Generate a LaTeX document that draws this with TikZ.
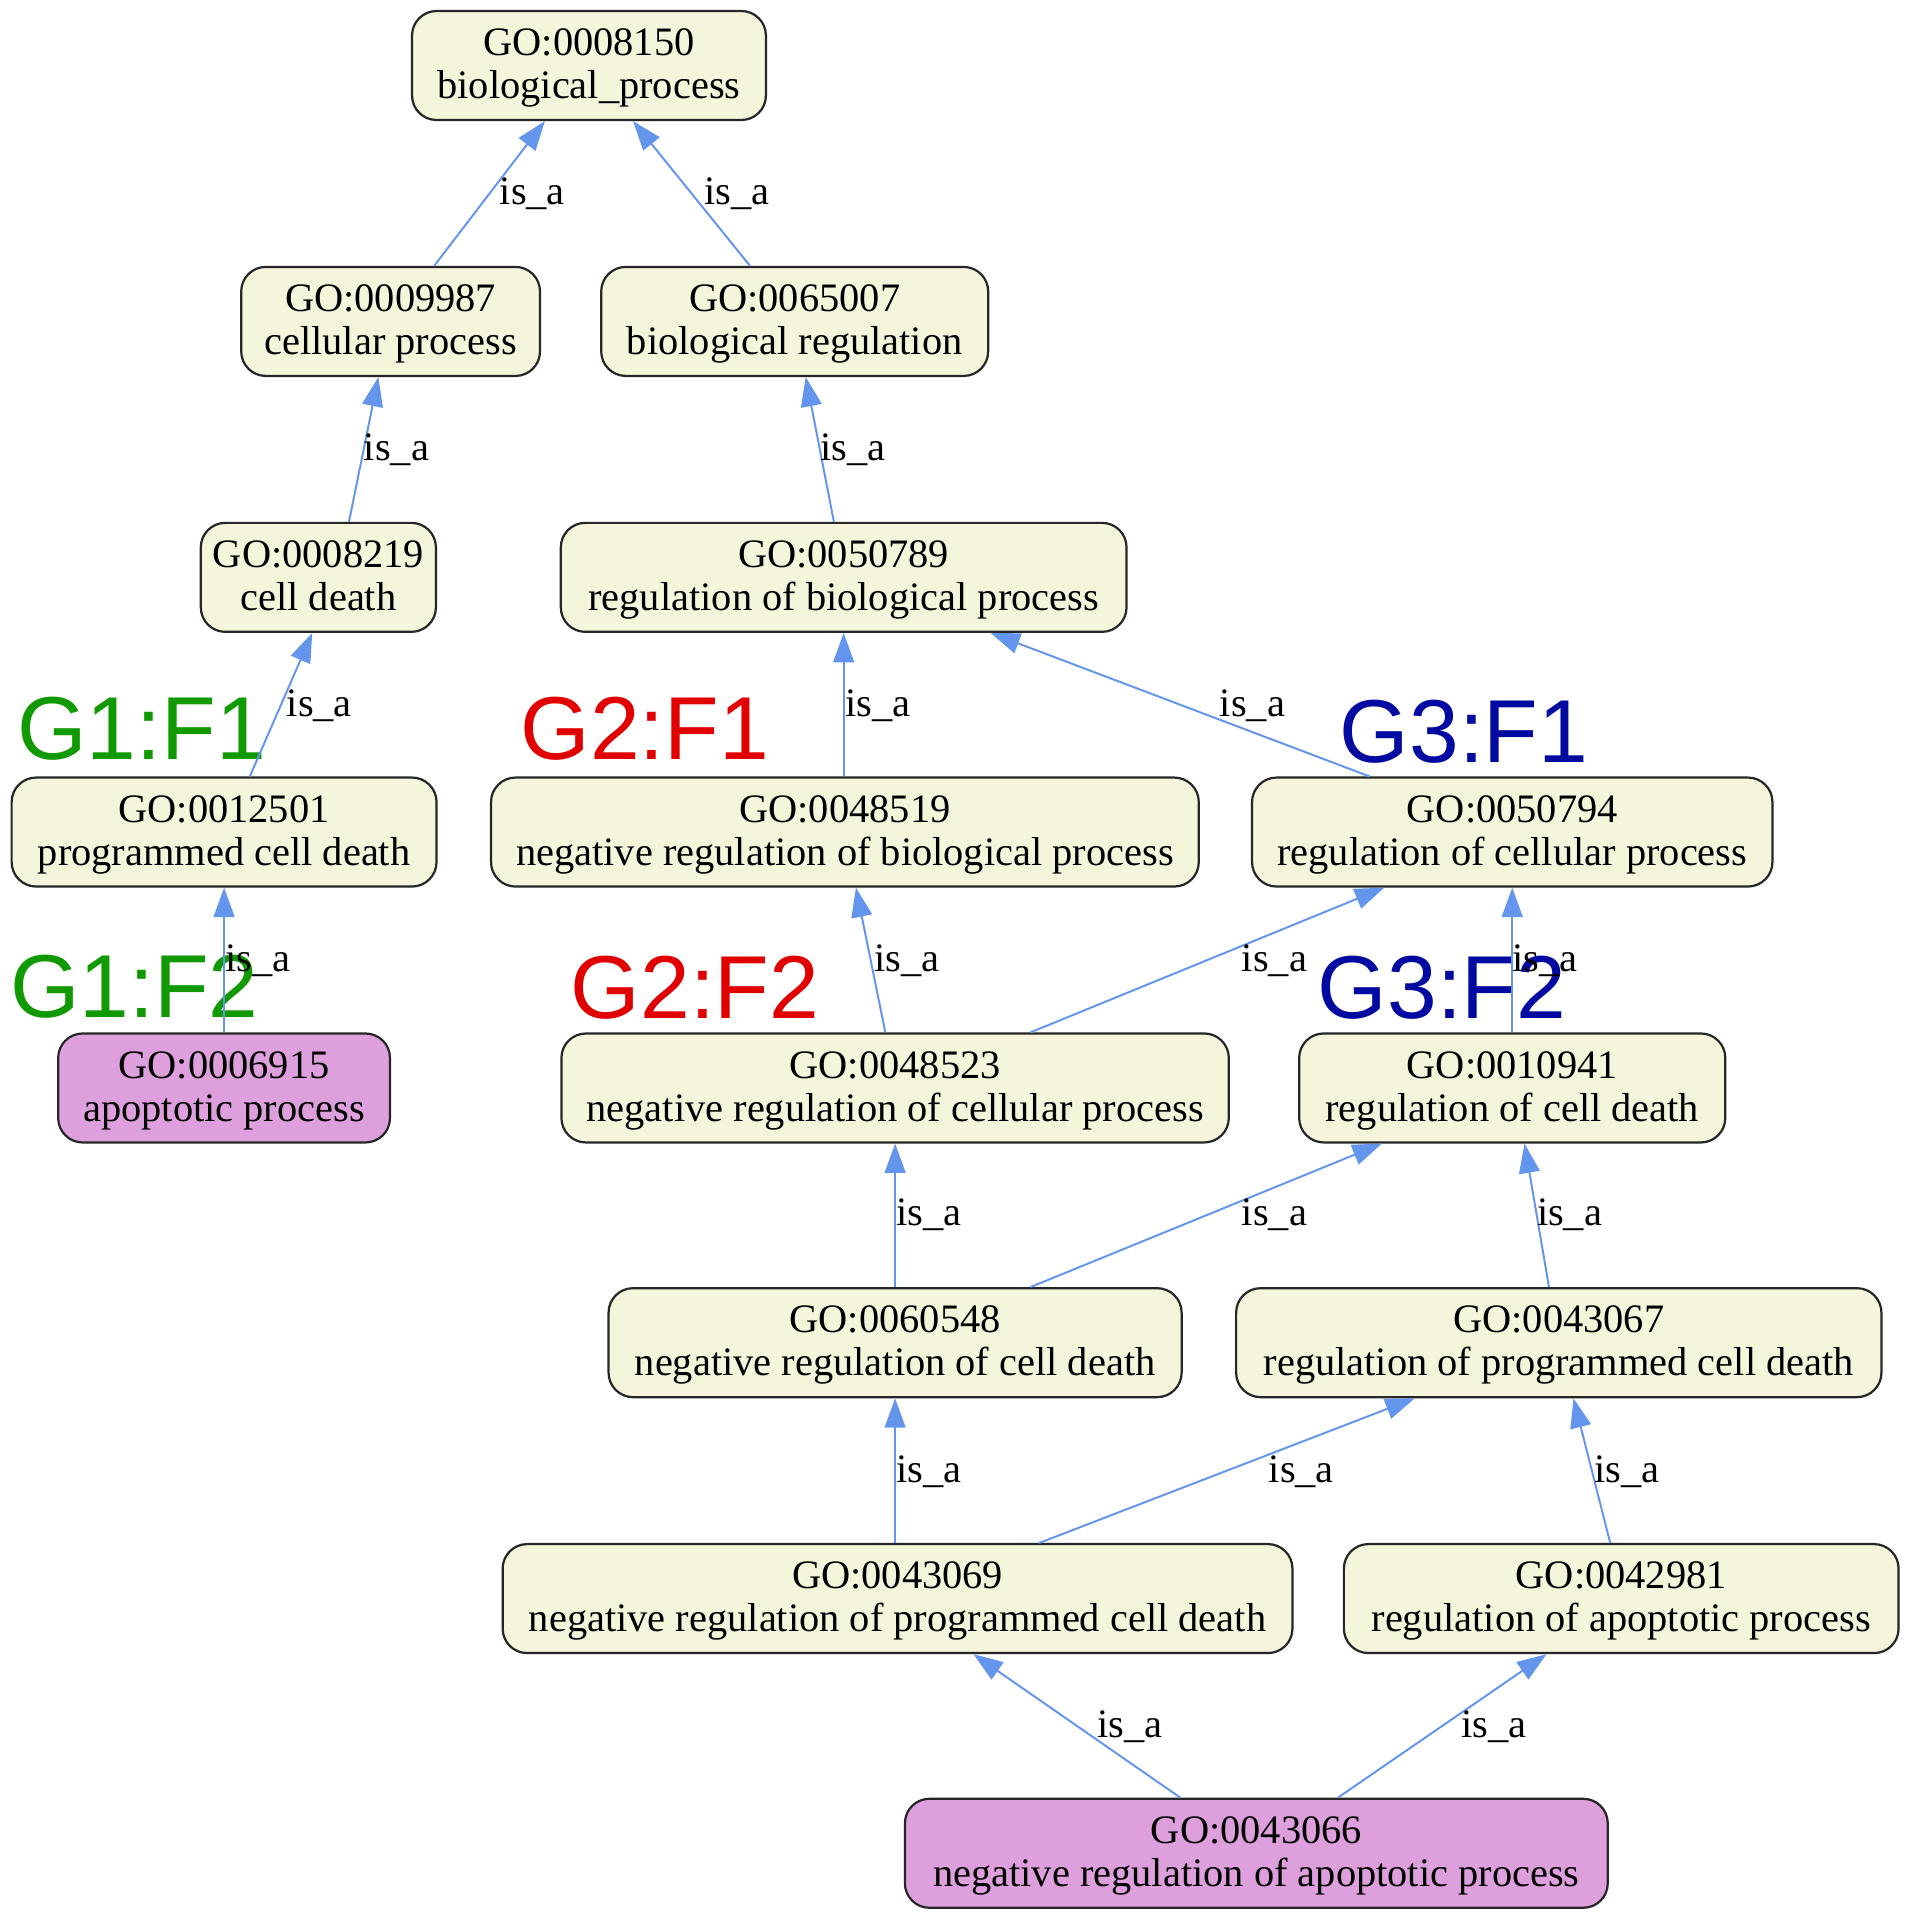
\documentclass[tikz,border=0pt]{standalone}
\usepackage{fontspec}
\setmainfont{Liberation Serif}
\newfontfamily\grpfont{Liberation Sans}
\usetikzlibrary{arrows.meta}
\definecolor{termfill}{HTML}{F5F5DC}
\definecolor{leaffill}{HTML}{DDA0DD}
\definecolor{termline}{HTML}{262626}
\definecolor{edgecol}{HTML}{6495ED}
\definecolor{gone}{RGB}{16,153,0}
\definecolor{gtwo}{RGB}{224,0,0}
\definecolor{gthree}{RGB}{0,10,160}
\newcommand\twolines[2]{\rule{0pt}{27pt}#1\\\rule[-8pt]{0pt}{8pt}#2}
\tikzset{
  term/.style={draw=termline, fill=termfill, line width=1.8pt, rounded corners=20pt,
    minimum height=89pt, inner sep=0pt, align=center,
    font=\fontsize{33pt}{35pt}\selectfont},
  leaf/.style={term, fill=leaffill},
  isa/.style={draw=edgecol, line width=1.6pt, -{Triangle[length=24pt,width=17pt]}},
  lab/.style={anchor=base west, inner sep=0pt, font=\fontsize{33pt}{34pt}\selectfont},
  grp/.style={anchor=base west, inner sep=0pt, font=\grpfont\fontsize{73pt}{73pt}\selectfont}
}
\begin{document}
\begin{tikzpicture}[x=1pt,y=-1pt]
\useasboundingbox (0,0) rectangle (1560,1568);
% group labels
\node[grp, text=gone]   (g1f1) at (14,620)   {G1:F1};
\node[grp, text=gtwo]   (g2f1) at (425,620)  {G2:F1};
\node[grp, text=gthree] (g3f1) at (1094,623) {G3:F1};
\node[grp, text=gone]   (g1f2) at (8,831)    {G1:F2};
\node[grp, text=gtwo]   (g2f2) at (466,832)  {G2:F2};
\node[grp, text=gthree] (g3f2) at (1076,832) {G3:F2};
% terms
\node[term, minimum width=289pt] (n8150)  at (481,53.5)   {\twolines{GO:0008150}{biological\_process}};
\node[term, minimum width=244pt] (n9987)  at (319,262.5)  {\twolines{GO:0009987}{cellular process}};
\node[term, minimum width=316pt] (n65007) at (649,262.5)  {\twolines{GO:0065007}{biological regulation}};
\node[term, minimum width=192pt] (n8219)  at (260,471.5)  {\twolines{GO:0008219}{cell death}};
\node[term, minimum width=462pt] (n50789) at (689,471.5)  {\twolines{GO:0050789}{regulation of biological process}};
\node[term, minimum width=347pt] (n12501) at (183,679.5)  {\twolines{GO:0012501}{programmed cell death}};
\node[term, minimum width=578pt] (n48519) at (690,679.5)  {\twolines{GO:0048519}{negative regulation of biological process}};
\node[term, minimum width=425pt] (n50794) at (1235,679.5) {\twolines{GO:0050794}{regulation of cellular process}};
\node[leaf, minimum width=271pt] (n6915)  at (183,888.5)  {\twolines{GO:0006915}{apoptotic process}};
\node[term, minimum width=545pt] (n48523) at (731,888.5)  {\twolines{GO:0048523}{negative regulation of cellular process}};
\node[term, minimum width=348pt] (n10941) at (1235,888.5) {\twolines{GO:0010941}{regulation of cell death}};
\node[term, minimum width=468pt] (n60548) at (731,1096.5) {\twolines{GO:0060548}{negative regulation of cell death}};
\node[term, minimum width=527pt] (n43067) at (1273,1096.5) {\twolines{GO:0043067}{regulation of programmed cell death}};
\node[term, minimum width=645pt] (n43069) at (733,1305.5) {\twolines{GO:0043069}{negative regulation of programmed cell death}};
\node[term, minimum width=453pt] (n42981) at (1324,1305.5) {\twolines{GO:0042981}{regulation of apoptotic process}};
\node[leaf, minimum width=574pt] (n43066) at (1026,1513.5) {\twolines{GO:0043066}{negative regulation of apoptotic process}};
% edges
\draw[isa] ([xshift=35.6pt]n9987.north)   -- ([xshift=-36pt]n8150.south);
\draw[isa] ([xshift=-36.5pt]n65007.north) -- ([xshift=36pt]n8150.south);
\draw[isa] ([xshift=25pt]n8219.north)     -- ([xshift=-10pt]n9987.south);
\draw[isa] ([xshift=-8pt]n50789.north)    -- ([xshift=9pt]n65007.south);
\draw[isa] ([xshift=21pt]n12501.north)    -- ([xshift=-5pt]n8219.south);
\draw[isa] ([xshift=-1pt]n48519.north)    -- (n50789.south);
\draw[isa] ([xshift=-116.5pt]n50794.north) -- ([xshift=120pt]n50789.south);
\draw[isa] (n6915.north)                  -- (n12501.south);
\draw[isa] ([xshift=-8pt]n48523.north)    -- ([xshift=9pt]n48519.south);
\draw[isa] ([xshift=110.6pt]n48523.north) -- ([xshift=-104.5pt]n50794.south);
\draw[isa] (n10941.north)                 -- (n50794.south);
\draw[isa] (n60548.north)                 -- (n48523.south);
\draw[isa] ([xshift=110.6pt]n60548.north) -- ([xshift=-106.5pt]n10941.south);
\draw[isa] ([xshift=-8pt]n43067.north)    -- ([xshift=10pt]n10941.south);
\draw[isa] ([xshift=-2pt]n43069.north)    -- (n60548.south);
\draw[isa] ([xshift=115.6pt]n43069.north) -- ([xshift=-117.6pt]n43067.south);
\draw[isa] ([xshift=-9pt]n42981.north)    -- ([xshift=12pt]n43067.south);
\draw[isa] ([xshift=-62pt]n43066.north)   -- ([xshift=62pt]n43069.south);
\draw[isa] ([xshift=66.6pt]n43066.north)  -- ([xshift=-61pt]n42981.south);
% edge labels
\node[lab] (l1)  at (408,167)  {is\_a};
\node[lab] (l2)  at (575,167)  {is\_a};
\node[lab] (l3)  at (297,376)  {is\_a};
\node[lab] (l4)  at (670,376)  {is\_a};
\node[lab] (l5)  at (234,585)  {is\_a};
\node[lab] (l6)  at (690,585)  {is\_a};
\node[lab] (l7)  at (996,585)  {is\_a};
\node[lab] (l8)  at (184,793)  {is\_a};
\node[lab] (l9)  at (714,793)  {is\_a};
\node[lab] (l10) at (1014,793) {is\_a};
\node[lab] (l11) at (1235,793) {is\_a};
\node[lab] (l12) at (732,1001) {is\_a};
\node[lab] (l13) at (1014,1001) {is\_a};
\node[lab] (l14) at (1255,1001) {is\_a};
\node[lab] (l15) at (732,1211) {is\_a};
\node[lab] (l16) at (1036,1211) {is\_a};
\node[lab] (l17) at (1302,1211) {is\_a};
\node[lab] (l18) at (896,1419) {is\_a};
\node[lab] (l19) at (1193,1419) {is\_a};
\end{tikzpicture}
\end{document}
